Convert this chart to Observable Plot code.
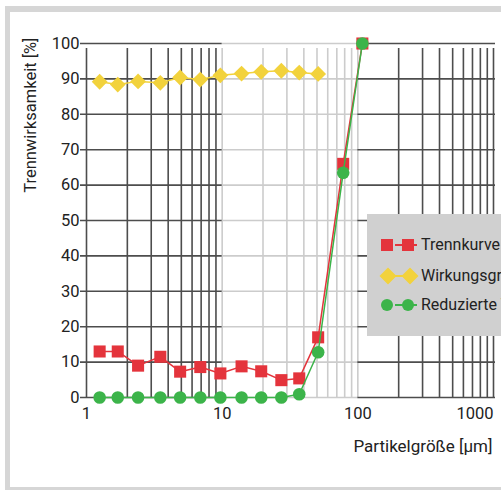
<!DOCTYPE html>
<html>
<head>
<meta charset="utf-8">
<script src="https://cdn.jsdelivr.net/npm/d3@7"></script>
<script src="https://cdn.jsdelivr.net/npm/@observablehq/plot@0.6"></script>
<style>
  html, body { margin: 0; padding: 0; background: #ffffff; overflow: hidden; width: 501px; height: 490px; }
  #frame { position: absolute; left: 5px; top: 6px; width: 560px; height: 484px; box-sizing: border-box;
           border-top: 6px solid #d6d6d6; border-left: 5px solid #d6d6d6; border-bottom: 3px solid #d6d6d6; }
  #chart { position: absolute; left: 0; top: 0; }
  #legend { position: absolute; left: 367px; top: 214px; width: 170px; height: 122px; background: #d0d0d0;
            font-family: Roboto, sans-serif; font-size: 16px; color: #222; white-space: nowrap; }
  .row { position: absolute; left: 0; height: 20px; display: flex; align-items: center; }
  .sw { position: relative; width: 54px; height: 20px; }
  .lbl { position: absolute; left: 54px; top: 0; line-height: 20px; }
  .ln { position: absolute; left: 16px; top: 9px; width: 22px; height: 2px; }
  .sq { position: absolute; top: 4px; width: 12px; height: 12px; }
  .ci { position: absolute; top: 4px; width: 12px; height: 12px; border-radius: 50%; }
  .di { position: absolute; top: 4px; width: 12px; height: 12px; transform: rotate(45deg); }
</style>
</head>
<body>
<div id="frame"></div>
<div id="chart"></div>
<div id="legend"></div>
<script>
// Particle sizes [µm]
const size = [1.25, 1.7, 2.4, 3.5, 4.9, 6.9, 9.7, 13.9, 19.4, 27.3, 37, 51, 78, 108];
// Trennkurve [%]
const trennkurve = [13, 13, 9, 11.5, 7.3, 8.6, 6.8, 8.8, 7.4, 4.9, 5.4, 17, 66, 100];
// Wirkungsgrad [%] (first 12 sizes)
const wirkungsgrad = [89.2, 88.4, 89.3, 88.9, 90.4, 89.8, 91.0, 91.5, 92.0, 92.3, 91.8, 91.4];
// Reduzierte Trennkurve [%]
const reduziert = [0, 0, 0, 0, 0, 0, 0, 0, 0, 0, 0.9, 12.8, 63.5, 100];

const seriesNames = ["Trennkurve", "Wirkungsgrad", "Reduzierte Trennkurve"];
const seriesColors = ["#e4343c", "#f2d23c", "#3cb44a"];

const xGrid1 = [1, 2, 3, 4, 5, 6, 7, 8, 9];
const xGrid2 = [10, 20, 30, 40, 50, 60, 70, 80, 90, 100];
const xGrid3 = [200, 300, 400, 500, 600, 700, 800, 900, 1000];
const yTicks = [0, 10, 20, 30, 40, 50, 60, 70, 80, 90, 100];
const xLabels = [1, 10, 100];
const xLabelLast = [1000];

const red = size.map((x, i) => ({x, y: trennkurve[i]}));
const yel = wirkungsgrad.map((y, i) => ({x: size[i], y}));
const grn = size.map((x, i) => ({x, y: reduziert[i]}));

const dark = "#4d4d4d";
const light = "#cccccc";
const fmt = d => String(d);

const chart = Plot.plot({
  width: 501,
  height: 490,
  marginLeft: 86,
  marginRight: 8,
  marginTop: 43,
  marginBottom: 93,
  style: {fontFamily: "Roboto, sans-serif", fontSize: "16px", color: "#222", background: "transparent"},
  x: {type: "log", domain: [1, 1000], axis: null},
  y: {domain: [0, 100], axis: null},
  marks: [
    // vertical grid
    Plot.ruleX(xGrid2, {x: d => d, y1: 0, y2: 100, stroke: light, strokeWidth: 1.6, insetBottom: -5}),
    Plot.ruleX(xGrid1, {x: d => d, y1: 0, y2: 100, stroke: dark, strokeWidth: 1.6, insetBottom: -5}),
    Plot.ruleX(xGrid3, {x: d => d, y1: 0, y2: 100, stroke: dark, strokeWidth: 1.6, insetBottom: -5}),
    // horizontal grid
    Plot.ruleY(yTicks, {y: d => d, x1: 10, x2: 100, stroke: light, strokeWidth: 1.6}),
    Plot.ruleY(yTicks, {y: d => d, x1: 1, x2: 10, stroke: dark, strokeWidth: 1.6, insetLeft: -6}),
    Plot.ruleY(yTicks, {y: d => d, x1: 100, x2: 1000, stroke: dark, strokeWidth: 1.6, insetRight: -2}),
    // axes
    Plot.axisY(yTicks, {tickSize: 0, tickPadding: 7, label: null, fontSize: 16.5, fill: "#222", tickFormat: fmt}),
    Plot.axisX(xLabels, {tickSize: 0, tickPadding: 10, label: null, fontSize: 16.5, fill: "#222", tickFormat: fmt}),
    Plot.axisX(xLabelLast, {tickSize: 0, tickPadding: 10, label: null, fontSize: 16.5, fill: "#222", textAnchor: "end", tickFormat: fmt}),
    Plot.text(["Partikelgröße [µm]"], {frameAnchor: "bottom-right", textAnchor: "end", lineAnchor: "middle", dy: 49, dx: -1, fontSize: 17, fill: "#222"}),
    Plot.text(["Trennwirksamkeit [%]"], {frameAnchor: "top-left", textAnchor: "end", lineAnchor: "middle", rotate: -90, dx: -56, dy: -6, fontSize: 16.5, fill: "#222"}),
    // Wirkungsgrad
    Plot.line(yel, {x: "x", y: "y", stroke: seriesColors[1], strokeWidth: 1.5}),
    Plot.dot(yel, {x: "x", y: "y", symbol: "square", rotate: 45, r: 6.3, fill: seriesColors[1], stroke: null}),
    // Trennkurve
    Plot.line(red, {x: "x", y: "y", stroke: seriesColors[0], strokeWidth: 1.5}),
    Plot.dot(red, {x: "x", y: "y", symbol: "square", r: 6.8, fill: seriesColors[0], stroke: null}),
    // Reduzierte Trennkurve
    Plot.line(grn, {x: "x", y: "y", stroke: seriesColors[2], strokeWidth: 1.5}),
    Plot.dot(grn, {x: "x", y: "y", r: 6.3, fill: seriesColors[2], stroke: null})
  ]
});
document.getElementById("chart").appendChild(chart);

// legend
const legend = document.getElementById("legend");
const shapes = ["sq", "di", "ci"];
const rowTops = [21, 52, 81];
seriesNames.forEach((name, i) => {
  const row = document.createElement("div");
  row.className = "row";
  row.style.top = rowTops[i] + "px";
  row.style.left = "12px";
  const sw = document.createElement("div");
  sw.className = "sw";
  const ln = document.createElement("div");
  ln.className = "ln";
  ln.style.background = seriesColors[i];
  sw.appendChild(ln);
  const positions = i === 1 ? [3, 25] : [2, 23];
  positions.forEach(p => {
    const s = document.createElement("div");
    s.className = shapes[i];
    s.style.left = p + "px";
    s.style.background = seriesColors[i];
    sw.appendChild(s);
  });
  row.appendChild(sw);
  const lbl = document.createElement("div");
  lbl.className = "lbl";
  lbl.textContent = name;
  lbl.style.left = "42px";
  row.appendChild(lbl);
  legend.appendChild(row);
});
</script>
</body>
</html>
